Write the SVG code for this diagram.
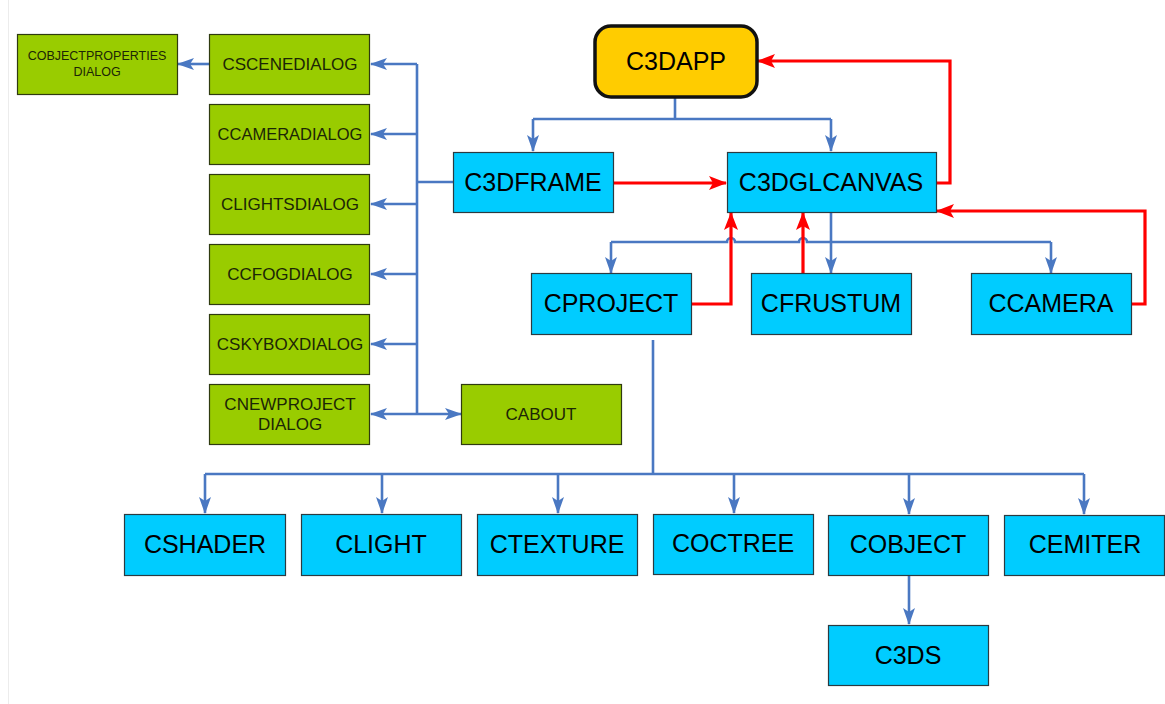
<svg xmlns="http://www.w3.org/2000/svg" width="1165" height="704" viewBox="0 0 1165 704">
  <style>
    .blue rect { fill: #00CCFF; stroke: #2b3a40; stroke-width: 1.2; }
    .green rect { fill: #99CC00; stroke: #2f3a10; stroke-width: 1.2; }
    .app rect { fill: #FFCC00; stroke: #111; stroke-width: 3.5; }
    .lbl { font-family: "Liberation Sans", Arial, sans-serif; fill: #000; text-anchor: middle; }
    .big { font-size: 25px; }
    .mid { font-size: 17px; fill: #1c2606; }
    .sml { font-size: 12.5px; fill: #1c2606; }
    .bl { fill: none; stroke: #4A78C2; stroke-width: 2.6; }
    .rd { fill: none; stroke: #FF0000; stroke-width: 3.2; }
  </style>
  <defs>
    <marker id="ab" markerWidth="17" markerHeight="12" refX="16" refY="6" orient="auto" markerUnits="userSpaceOnUse">
      <path d="M0,0 L17,6 L0,12 L4,6 Z" fill="#4A78C2"/>
    </marker>
    <marker id="ar" markerWidth="18" markerHeight="14" refX="17" refY="7" orient="auto" markerUnits="userSpaceOnUse">
      <path d="M0,0 L18,7 L0,14 L4,7 Z" fill="#FF0000"/>
    </marker>
  </defs>

  <rect width="1165" height="704" fill="#fff"/>
  <line x1="8.5" y1="0" x2="8.5" y2="704" stroke="#ececec" stroke-width="1"/>

  <!-- connectors -->
  <g id="connectors">
    <!-- dialogs bus -->
    <path class="bl" d="M417,64 V414"/>
    <path class="bl" d="M453,182 H417"/>
    <path class="bl" d="M417,64 H371" marker-end="url(#ab)"/>
    <path class="bl" d="M417,134 H371" marker-end="url(#ab)"/>
    <path class="bl" d="M417,204 H371" marker-end="url(#ab)"/>
    <path class="bl" d="M417,274 H371" marker-end="url(#ab)"/>
    <path class="bl" d="M417,344 H371" marker-end="url(#ab)"/>
    <path class="bl" d="M417,414 H371" marker-end="url(#ab)"/>
    <path class="bl" d="M417,414 H461" marker-end="url(#ab)"/>
    <path class="bl" d="M209,64 H178" marker-end="url(#ab)"/>

    <!-- app to frame / canvas -->
    <path class="bl" d="M675,97 V119"/>
    <path class="bl" d="M533,119 H831"/>
    <path class="bl" d="M533,119 V151" marker-end="url(#ab)"/>
    <path class="bl" d="M831,119 V151" marker-end="url(#ab)"/>

    <!-- canvas to project / frustum / camera -->
    <path class="bl" d="M831,212 V242"/>
    <path class="bl" d="M611,242 H727 A4,4 0 0 1 735,242 H799 A4,4 0 0 1 807,242 H1051"/>
    <path class="bl" d="M611,242 V273" marker-end="url(#ab)"/>
    <path class="bl" d="M831,242 V273" marker-end="url(#ab)"/>
    <path class="bl" d="M1051,242 V273" marker-end="url(#ab)"/>

    <!-- project to resources -->
    <path class="bl" d="M653,340 V474"/>
    <path class="bl" d="M205,474 H1084"/>
    <path class="bl" d="M205,474 V513" marker-end="url(#ab)"/>
    <path class="bl" d="M382,474 V513" marker-end="url(#ab)"/>
    <path class="bl" d="M558,474 V513" marker-end="url(#ab)"/>
    <path class="bl" d="M734,474 V513" marker-end="url(#ab)"/>
    <path class="bl" d="M909,474 V514" marker-end="url(#ab)"/>
    <path class="bl" d="M1084,474 V514" marker-end="url(#ab)"/>
    <path class="bl" d="M909,576 V624" marker-end="url(#ab)"/>

    <!-- references back (red) -->
    <path class="rd" d="M613,183 H726" marker-end="url(#ar)"/>
    <path class="rd" d="M936,183 H950 V61 H758" marker-end="url(#ar)"/>
    <path class="rd" d="M1131,304 H1145 V211 H937" marker-end="url(#ar)"/>
    <path class="rd" d="M691,304 H731 V213" marker-end="url(#ar)"/>
    <path class="rd" d="M803,274 V213" marker-end="url(#ar)"/>
  </g>

  <!-- nodes -->
  <g id="c3dapp" class="app">
    <rect x="595" y="26" width="162" height="71" rx="16" ry="16"/>
    <text class="lbl big" x="676" y="70">C3DAPP</text>
  </g>
  <g id="c3dframe" class="blue">
    <rect x="453.5" y="152.5" width="160" height="60"/>
    <text class="lbl big" x="533" y="191">C3DFRAME</text>
  </g>
  <g id="c3dglcanvas" class="blue">
    <rect x="727.5" y="152.5" width="209" height="60"/>
    <text class="lbl big" x="831" y="191">C3DGLCANVAS</text>
  </g>
  <g id="cproject" class="blue">
    <rect x="531.5" y="273.5" width="160" height="61"/>
    <text class="lbl big" x="611" y="312">CPROJECT</text>
  </g>
  <g id="cfrustum" class="blue">
    <rect x="751.5" y="273.5" width="160" height="61"/>
    <text class="lbl big" x="831" y="312">CFRUSTUM</text>
  </g>
  <g id="ccamera" class="blue">
    <rect x="971.5" y="273.5" width="160" height="61"/>
    <text class="lbl big" x="1051" y="312">CCAMERA</text>
  </g>

  <g id="cobjectpropertiesdialog" class="green">
    <rect x="17.5" y="34.5" width="160" height="60"/>
    <text class="lbl sml" x="97" y="60">COBJECTPROPERTIES</text>
    <text class="lbl sml" x="97" y="76">DIALOG</text>
  </g>
  <g id="cscenedialog" class="green">
    <rect x="209.5" y="34.5" width="160" height="60"/>
    <text class="lbl mid" x="290" y="70">CSCENEDIALOG</text>
  </g>
  <g id="ccameradialog" class="green">
    <rect x="209.5" y="104.5" width="160" height="60"/>
    <text class="lbl mid" x="290" y="140" style="font-size:16.5px">CCAMERADIALOG</text>
  </g>
  <g id="clightsdialog" class="green">
    <rect x="209.5" y="174.5" width="160" height="60"/>
    <text class="lbl mid" x="290" y="210">CLIGHTSDIALOG</text>
  </g>
  <g id="ccfogdialog" class="green">
    <rect x="209.5" y="244.5" width="160" height="60"/>
    <text class="lbl mid" x="290" y="280">CCFOGDIALOG</text>
  </g>
  <g id="cskyboxdialog" class="green">
    <rect x="209.5" y="314.5" width="160" height="60"/>
    <text class="lbl mid" x="290" y="350">CSKYBOXDIALOG</text>
  </g>
  <g id="cnewprojectdialog" class="green">
    <rect x="209.5" y="384.5" width="160" height="60"/>
    <text class="lbl mid" x="290" y="410">CNEWPROJECT</text>
    <text class="lbl mid" x="290" y="430">DIALOG</text>
  </g>
  <g id="cabout" class="green">
    <rect x="461.5" y="384.5" width="160" height="60"/>
    <text class="lbl mid" x="541" y="420">CABOUT</text>
  </g>

  <g id="cshader" class="blue">
    <rect x="124.5" y="514.5" width="161" height="61"/>
    <text class="lbl big" x="205" y="553">CSHADER</text>
  </g>
  <g id="clight" class="blue">
    <rect x="301.5" y="514.5" width="160" height="61"/>
    <text class="lbl big" x="381" y="553">CLIGHT</text>
  </g>
  <g id="ctexture" class="blue">
    <rect x="477.5" y="514.5" width="160" height="61"/>
    <text class="lbl big" x="557" y="553">CTEXTURE</text>
  </g>
  <g id="coctree" class="blue">
    <rect x="653.5" y="514.5" width="160" height="60"/>
    <text class="lbl big" x="733" y="552">COCTREE</text>
  </g>
  <g id="cobject" class="blue">
    <rect x="828.5" y="515.5" width="160" height="60"/>
    <text class="lbl big" x="908" y="553">COBJECT</text>
  </g>
  <g id="cemiter" class="blue">
    <rect x="1004.5" y="515.5" width="160" height="60"/>
    <text class="lbl big" x="1085" y="553">CEMITER</text>
  </g>
  <g id="c3ds" class="blue">
    <rect x="828.5" y="625.5" width="160" height="60"/>
    <text class="lbl big" x="908" y="664">C3DS</text>
  </g>
</svg>
